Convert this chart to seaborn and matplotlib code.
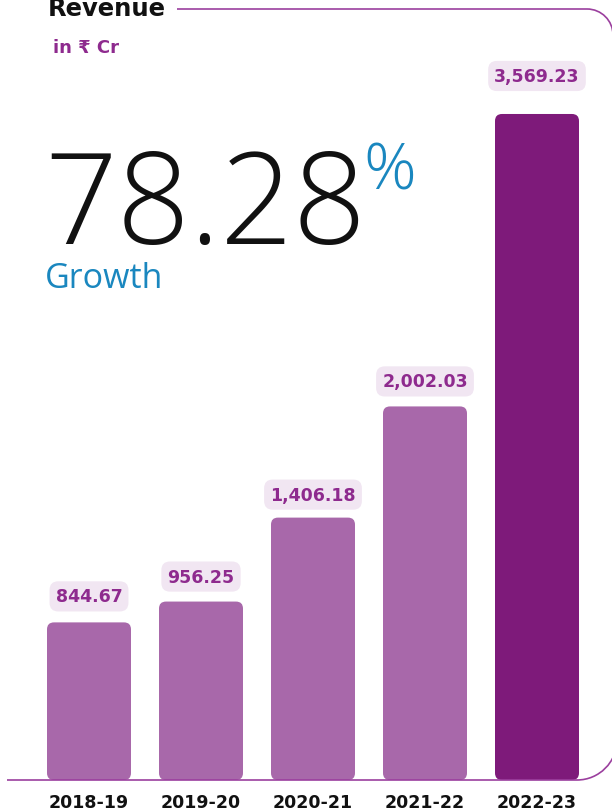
import matplotlib
matplotlib.use("Agg")
import matplotlib.pyplot as plt
import seaborn as sns
import pandas as pd
import numpy as np
from matplotlib.patches import FancyBboxPatch, PathPatch
from matplotlib.path import Path
from matplotlib.transforms import Affine2D

# ---- data ----
years = ["2018-19", "2019-20", "2020-21", "2021-22", "2022-23"]
revenue = [844.67, 956.25, 1406.18, 2002.03, 3569.23]
value_labels = ["844.67", "956.25", "1,406.18", "2,002.03", "3,569.23"]
growth_value = "78.28"
unit_label = "in ₹ Cr"
title = "Revenue"

# ---- style ----
W, H = 612, 812
LIGHT = "#A868AA"
DARK = "#7E1A7A"
LABEL_COLOR = "#8E2A8E"
LABEL_BG = "#F1E6F2"
LINE_COLOR = "#9B3F9E"
BLUE = "#1A87BF"
FONT = ["DejaVu Sans"]
THIN = ["Open Sans", "DejaVu Sans"]

sns.set_theme(style="white")
plt.rcParams["font.family"] = FONT

fig = plt.figure(figsize=(W / 100, H / 100), dpi=100)
ax = fig.add_axes([0, 0, 1, 1])

df = pd.DataFrame({"year": years, "revenue": revenue})
colors = [LIGHT] * (len(years) - 1) + [DARK]
sns.barplot(data=df, x="year", y="revenue", hue="year", palette=colors,
            legend=False, width=0.75, saturation=1, ax=ax)

# axis mapping: bar centres at 89 + 112*i px; baseline at y=781 px, 0.1866 px / unit
px_per_cat = 112.0
x0_px = 89.0
base_px = 781.0
px_per_unit = 0.1866
ax.set_xlim(-x0_px / px_per_cat, (W - x0_px) / px_per_cat)
ax.set_ylim(-(H - base_px) / px_per_unit, base_px / px_per_unit)
ax.axis("off")

# replace rectangles with rounded bars
xu = 1 / px_per_cat
yu = 1 / px_per_unit
aspect = yu / xu
for p in list(ax.patches):
    x, y = p.get_x(), p.get_y()
    w, h = p.get_width(), p.get_height()
    fc = p.get_facecolor()
    p.remove()
    r = 7 * xu
    fb = FancyBboxPatch((x + r, y + r * aspect), w - 2 * r, h - 2 * r * aspect,
                        boxstyle=f"round,pad={r},rounding_size={r}",
                        mutation_aspect=aspect, facecolor=fc, edgecolor="none",
                        zorder=2)
    ax.add_patch(fb)

# value labels
offsets_px = [26, 25, 23, 25, 38]
for i, (v, lab) in enumerate(zip(revenue, value_labels)):
    ax.text(i, v + offsets_px[i] * yu, lab, ha="center", va="center",
            fontsize=12.5, fontweight="bold", color=LABEL_COLOR, zorder=4,
            bbox=dict(boxstyle="round,pad=0.35,rounding_size=0.5",
                      facecolor=LABEL_BG, edgecolor="none"))

# x tick labels
for i, yr in enumerate(years):
    ax.text(i, -(803 - base_px) * yu, yr, ha="center", va="center",
            fontsize=12.5, fontweight="bold", color="#111111")

# pixel transform for decorations
pix = Affine2D().scale(1 / W, -1 / H).translate(0, 1) + fig.transFigure

# bracket lines
k = 0.5523
r1 = 26
cx1 = 587
top = Path([(177, 10), (cx1, 10), (cx1 + r1 * k, 10),
            (cx1 + r1, 10 + r1 - r1 * k), (cx1 + r1, 10 + r1), (cx1 + r1, 80)],
           [Path.MOVETO, Path.LINETO, Path.CURVE4, Path.CURVE4, Path.CURVE4, Path.LINETO])
fig.patches.append(PathPatch(top, transform=pix, fill=False, edgecolor=LINE_COLOR,
                             linewidth=1.2, zorder=5))
r2 = 40
cx2 = 577
bot = Path([(7, 781), (cx2, 781), (cx2 + r2 * k, 781),
            (cx2 + r2, 781 - r2 + r2 * k), (cx2 + r2, 781 - r2)],
           [Path.MOVETO, Path.LINETO, Path.CURVE4, Path.CURVE4, Path.CURVE4])
fig.patches.append(PathPatch(bot, transform=pix, fill=False, edgecolor=LINE_COLOR,
                             linewidth=1.2, zorder=5))

# titles
fig.text(48 / W, 1 - 16 / H, title, ha="left", va="baseline", fontsize=17.5,
         fontweight="bold", color="#111111")
fig.text(53 / W, 1 - 48 / H, unit_label, ha="left", va="center", fontsize=13,
         fontweight="bold", color=LABEL_COLOR)

# growth
fig.text(44 / W, 1 - 244 / H, growth_value, ha="left", va="baseline", fontsize=92,
         family=THIN, fontweight="light", color="#111111")
fig.text(363 / W, 1 - 190 / H, "%", ha="left", va="baseline", fontsize=47,
         family=THIN, fontweight="light", color=BLUE)
fig.text(45 / W, 1 - 288 / H, "Growth", ha="left", va="baseline", fontsize=24.5,
         family=THIN, fontweight="normal", color=BLUE)

fig.savefig("out.png", dpi=100)
